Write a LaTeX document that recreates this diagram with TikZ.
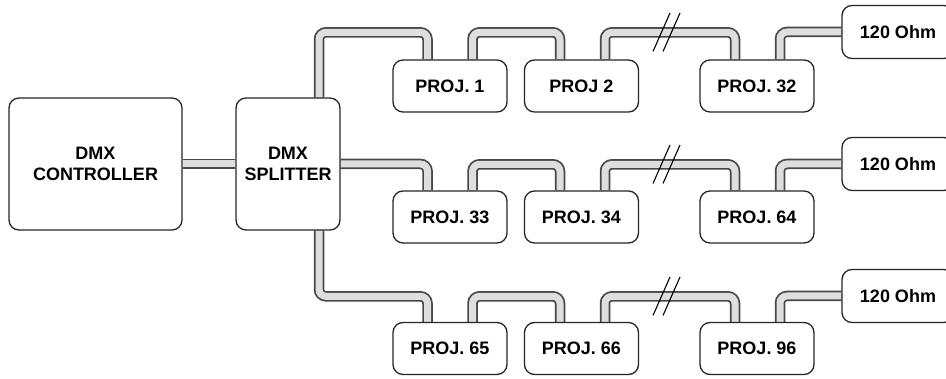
\documentclass[tikz,border=0pt]{standalone}
\usepackage{fontspec}
\setmainfont{Liberation Sans}
\usetikzlibrary{calc}
\pgfdeclarelayer{bg}
\pgfsetlayers{bg,main}
\newcommand\cablepath[1]{%
  \begin{pgfonlayer}{bg}
    \draw[cableout] #1;
    \draw[cablein] #1;
  \end{pgfonlayer}}
\begin{document}
\begin{tikzpicture}[x=1pt,y=-1pt,
  box/.style={draw=black!85, line width=1.3pt, rounded corners=10pt, fill=white,
    font=\bfseries\fontsize{18}{21.5}\selectfont, align=center, inner sep=0pt},
  proj/.style={box, minimum width=114pt, minimum height=52pt},
  ohm/.style={box, minimum width=112pt, minimum height=53pt},
  cableout/.style={draw=black!72, line width=10.5pt, rounded corners=7pt},
  cablein/.style={draw=black!13, line width=7pt, rounded corners=7pt},
  brk/.style={draw=black, line width=1.1pt}]
\useasboundingbox (0,0) rectangle (946,379);
\clip (0,0) rectangle (946,379);

\node[box, minimum width=173pt, minimum height=132pt] (ctrl) at (95.5,164) {DMX\\CONTROLLER};
\node[box, minimum width=104pt, minimum height=132pt] (split) at (288,164) {DMX\\SPLITTER};

\node[proj] (p11) at (450,86) {PROJ. 1};
\node[proj] (p12) at (581.5,86) {PROJ 2};
\node[proj] (p13) at (757,86) {PROJ. 32};
\node[ohm] (o1) at (898,32) {120 Ohm};

\node[proj] (p21) at (450,217) {PROJ. 33};
\node[proj] (p22) at (581.5,217) {PROJ. 34};
\node[proj] (p23) at (757,217) {PROJ. 64};
\node[ohm] (o2) at (898,164) {120 Ohm};

\node[proj] (p31) at (450,348.5) {PROJ. 65};
\node[proj] (p32) at (581.5,348.5) {PROJ. 66};
\node[proj] (p33) at (757,348.5) {PROJ. 96};
\node[ohm] (o3) at (898,296) {120 Ohm};

% controller to splitter
\cablepath{(ctrl.east) -- (split.west)}
% splitter outputs
\cablepath{($(split.north)+(31,0)$) |- ($(p11.north)+(-22.5,-27)$) -- ($(p11.north)+(-22.5,0)$)}
\cablepath{(split.east) -| ($(p21.north)+(-22.5,0)$)}
\cablepath{($(split.south)+(31,0)$) |- ($(p31.north)+(-22.5,-25.5)$) -- ($(p31.north)+(-22.5,0)$)}

% daisy chains
\foreach \r/\h in {1/27,2/26,3/25.5}{
  \cablepath{($(p\r1.north)+(22.5,0)$) |- ($(p\r2.north)+(-21.5,-\h)$) -- ($(p\r2.north)+(-21.5,0)$)}
  \cablepath{($(p\r2.north)+(23.5,0)$) |- ($(p\r3.north)+(-22,-\h)$) -- ($(p\r3.north)+(-22,0)$)}
  \cablepath{($(p\r3.north)+(23,0)$) |- (o\r.west)}
}

% break marks
\coordinate (b1) at (666.5,32.5);
\coordinate (b2) at (666.5,164.5);
\coordinate (b3) at (666.5,296.5);
\foreach \b in {b1,b2,b3}{
  \draw[brk] ($(\b)+(-13.5,19)$) -- ($(\b)+(3.5,-19.5)$);
  \draw[brk] ($(\b)+(-3.5,19)$) -- ($(\b)+(13.5,-19.5)$);
}
\end{tikzpicture}
\end{document}
